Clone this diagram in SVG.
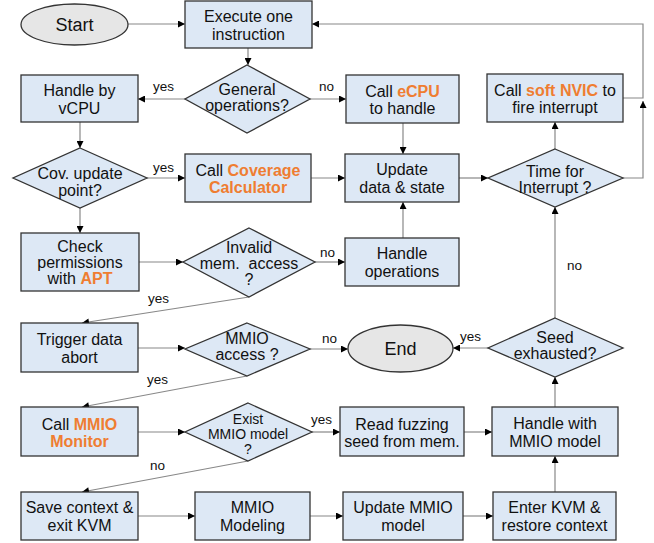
<svg xmlns="http://www.w3.org/2000/svg" width="654" height="543" viewBox="0 0 654 543">
<style>
.b{fill:#dde8f5;stroke:#333;stroke-width:1.3}
.e{fill:#e6e6e6;stroke:#333;stroke-width:1.3}
.t{font-family:"Liberation Sans",Arial,sans-serif;font-size:16px;fill:#111;text-anchor:middle}
.s{font-size:14px}
.big{font-size:18px}
.o{fill:#ef7d31;font-weight:bold}
.c{fill:none;stroke:#888;stroke-width:1.2;marker-end:url(#a)}
.l{font-family:"Liberation Sans",Arial,sans-serif;font-size:13.5px;fill:#111}
</style>
<defs>
<marker id="a" viewBox="0 0 10 10" refX="10" refY="5" markerWidth="8" markerHeight="7" orient="auto" markerUnits="userSpaceOnUse"><path d="M0,0 L10,5 L0,10 z" fill="#000"/></marker>
</defs>
<g id="connectors">
<path class="c" d="M128,24 H185"/>
<path class="c" d="M623,98 H643 V24 H312"/>
<path class="c" d="M623,178 H643 V101"/>
<path class="c" d="M248,48 V65"/>
<path class="c" d="M185,99 H138"/>
<path class="c" d="M310,99 H346"/>
<path class="c" d="M80,122 V148"/>
<path class="c" d="M147,178 H185"/>
<path class="c" d="M311,178 H345"/>
<path class="c" d="M403,123 V154"/>
<path class="c" d="M459,178 H488"/>
<path class="c" d="M555,149 V122"/>
<path class="c" d="M80,208 V233"/>
<path class="c" d="M139,262 H183"/>
<path class="c" d="M315,262 H345"/>
<path class="c" d="M403,238 V202"/>
<path class="c" d="M249,297 L82,323"/>
<path class="c" d="M138,348 H185"/>
<path class="c" d="M310,349 H348"/>
<path class="c" d="M247,376 L82,407"/>
<path class="c" d="M488,348 H453"/>
<path class="c" d="M555,318 V207"/>
<path class="c" d="M138,432 H185"/>
<path class="c" d="M312,432 H340"/>
<path class="c" d="M248,461 L82,492"/>
<path class="c" d="M464,432 H492"/>
<path class="c" d="M555,407 V377"/>
<path class="c" d="M138,516 H195"/>
<path class="c" d="M310,516 H343"/>
<path class="c" d="M463,516 H493"/>
<path class="c" d="M555,492 V456"/>
<text class="l" x="153" y="91">yes</text>
<text class="l" x="319" y="91">no</text>
<text class="l" x="153" y="172">yes</text>
<text class="l" x="320" y="257">no</text>
<text class="l" x="148" y="303">yes</text>
<text class="l" x="322" y="343">no</text>
<text class="l" x="147" y="384">yes</text>
<text class="l" x="460" y="341">yes</text>
<text class="l" x="567" y="270">no</text>
<text class="l" x="311" y="424">yes</text>
<text class="l" x="150" y="470">no</text>
</g>
<g id="start"><ellipse class="e" cx="74.5" cy="24.5" rx="53.5" ry="20.5"/><text class="t big" x="74.5" y="31">Start</text></g>
<g id="execute"><rect class="b" x="185" y="1" width="127" height="47"/><text class="t" x="248.5" y="22">Execute one</text><text class="t" x="248.5" y="39.5">instruction</text></g>
<g id="general"><polygon class="b" points="247,65 310,99 247,133 185,99"/><text class="t" x="247" y="95">General</text><text class="t" x="247" y="111">operations?</text></g>
<g id="vcpu"><rect class="b" x="21" y="75" width="117" height="47"/><text class="t" x="79.5" y="96">Handle by</text><text class="t" x="79.5" y="113.5">vCPU</text></g>
<g id="ecpu"><rect class="b" x="346" y="75" width="113" height="48"/><text class="t" x="402.5" y="97">Call <tspan class="o">eCPU</tspan></text><text class="t" x="402.5" y="114">to handle</text></g>
<g id="nvic"><rect class="b" x="487" y="74" width="136" height="48"/><text class="t" x="555" y="96">Call <tspan class="o">soft NVIC</tspan> to</text><text class="t" x="555" y="113">fire interrupt</text></g>
<g id="cov"><polygon class="b" points="80,148 147,178 80,208 13,178"/><text class="t" x="80" y="179">Cov. update</text><text class="t" x="80" y="196">point?</text></g>
<g id="coverage"><rect class="b" x="185" y="154" width="126" height="48"/><text class="t" x="248" y="176">Call <tspan class="o">Coverage</tspan></text><text class="t o" x="248" y="193">Calculator</text></g>
<g id="update"><rect class="b" x="345" y="154" width="114" height="48"/><text class="t" x="402" y="175">Update</text><text class="t" x="402" y="193">data &amp; state</text></g>
<g id="time"><polygon class="b" points="555,149 623,178 555,207 488,178"/><text class="t" x="555" y="177">Time for</text><text class="t" x="555" y="193">Interrupt ?</text></g>
<g id="check"><rect class="b" x="21" y="233" width="118" height="58"/><text class="t" x="80" y="252">Check</text><text class="t" x="80" y="268">permissions</text><text class="t" x="80" y="284">with <tspan class="o">APT</tspan></text></g>
<g id="invalid"><polygon class="b" points="249,228 315,262 249,297 183,262"/><text class="t" x="249" y="253">Invalid</text><text class="t" x="249" y="269">mem.&#160; access</text><text class="t" x="249" y="285">?</text></g>
<g id="handleops"><rect class="b" x="345" y="238" width="114" height="48"/><text class="t" x="402" y="259">Handle</text><text class="t" x="402" y="277">operations</text></g>
<g id="trigger"><rect class="b" x="21" y="323" width="117" height="49"/><text class="t" x="79.5" y="345">Trigger data</text><text class="t" x="79.5" y="363">abort</text></g>
<g id="mmioaccess"><polygon class="b" points="247,323 310,349 247,376 185,349"/><text class="t" x="247" y="344">MMIO</text><text class="t" x="247" y="360">access ?</text></g>
<g id="end"><ellipse class="e" cx="400.5" cy="348.5" rx="52.5" ry="23.5"/><text class="t big" x="400.5" y="355">End</text></g>
<g id="seed"><polygon class="b" points="555,318 623,348 555,377 488,348"/><text class="t" x="555" y="343">Seed</text><text class="t" x="555" y="359">exhausted?</text></g>
<g id="monitor"><rect class="b" x="21" y="407" width="117" height="49"/><text class="t" x="79.5" y="430">Call <tspan class="o">MMIO</tspan></text><text class="t o" x="79.5" y="447">Monitor</text></g>
<g id="exist"><polygon class="b" points="248,403 312,432 248,461 185,432"/><text class="t s" x="248" y="424">Exist</text><text class="t s" x="248" y="439">MMIO model</text><text class="t s" x="248" y="454">?</text></g>
<g id="read"><rect class="b" x="340" y="407" width="124" height="49"/><text class="t" x="402" y="430">Read fuzzing</text><text class="t" x="402" y="447">seed from mem.</text></g>
<g id="handlemmio"><rect class="b" x="492" y="407" width="126" height="49"/><text class="t" x="555" y="429">Handle with</text><text class="t" x="555" y="447">MMIO model</text></g>
<g id="save"><rect class="b" x="21" y="492" width="117" height="48"/><text class="t" x="79.5" y="513">Save context &amp;</text><text class="t" x="79.5" y="531">exit KVM</text></g>
<g id="modeling"><rect class="b" x="195" y="492" width="115" height="48"/><text class="t" x="252.5" y="513">MMIO</text><text class="t" x="252.5" y="531">Modeling</text></g>
<g id="updatemmio"><rect class="b" x="343" y="492" width="120" height="48"/><text class="t" x="403" y="513">Update MMIO</text><text class="t" x="403" y="531">model</text></g>
<g id="enter"><rect class="b" x="493" y="492" width="123" height="48"/><text class="t" x="554.5" y="513">Enter KVM &amp;</text><text class="t" x="554.5" y="531">restore context</text></g>
</svg>
